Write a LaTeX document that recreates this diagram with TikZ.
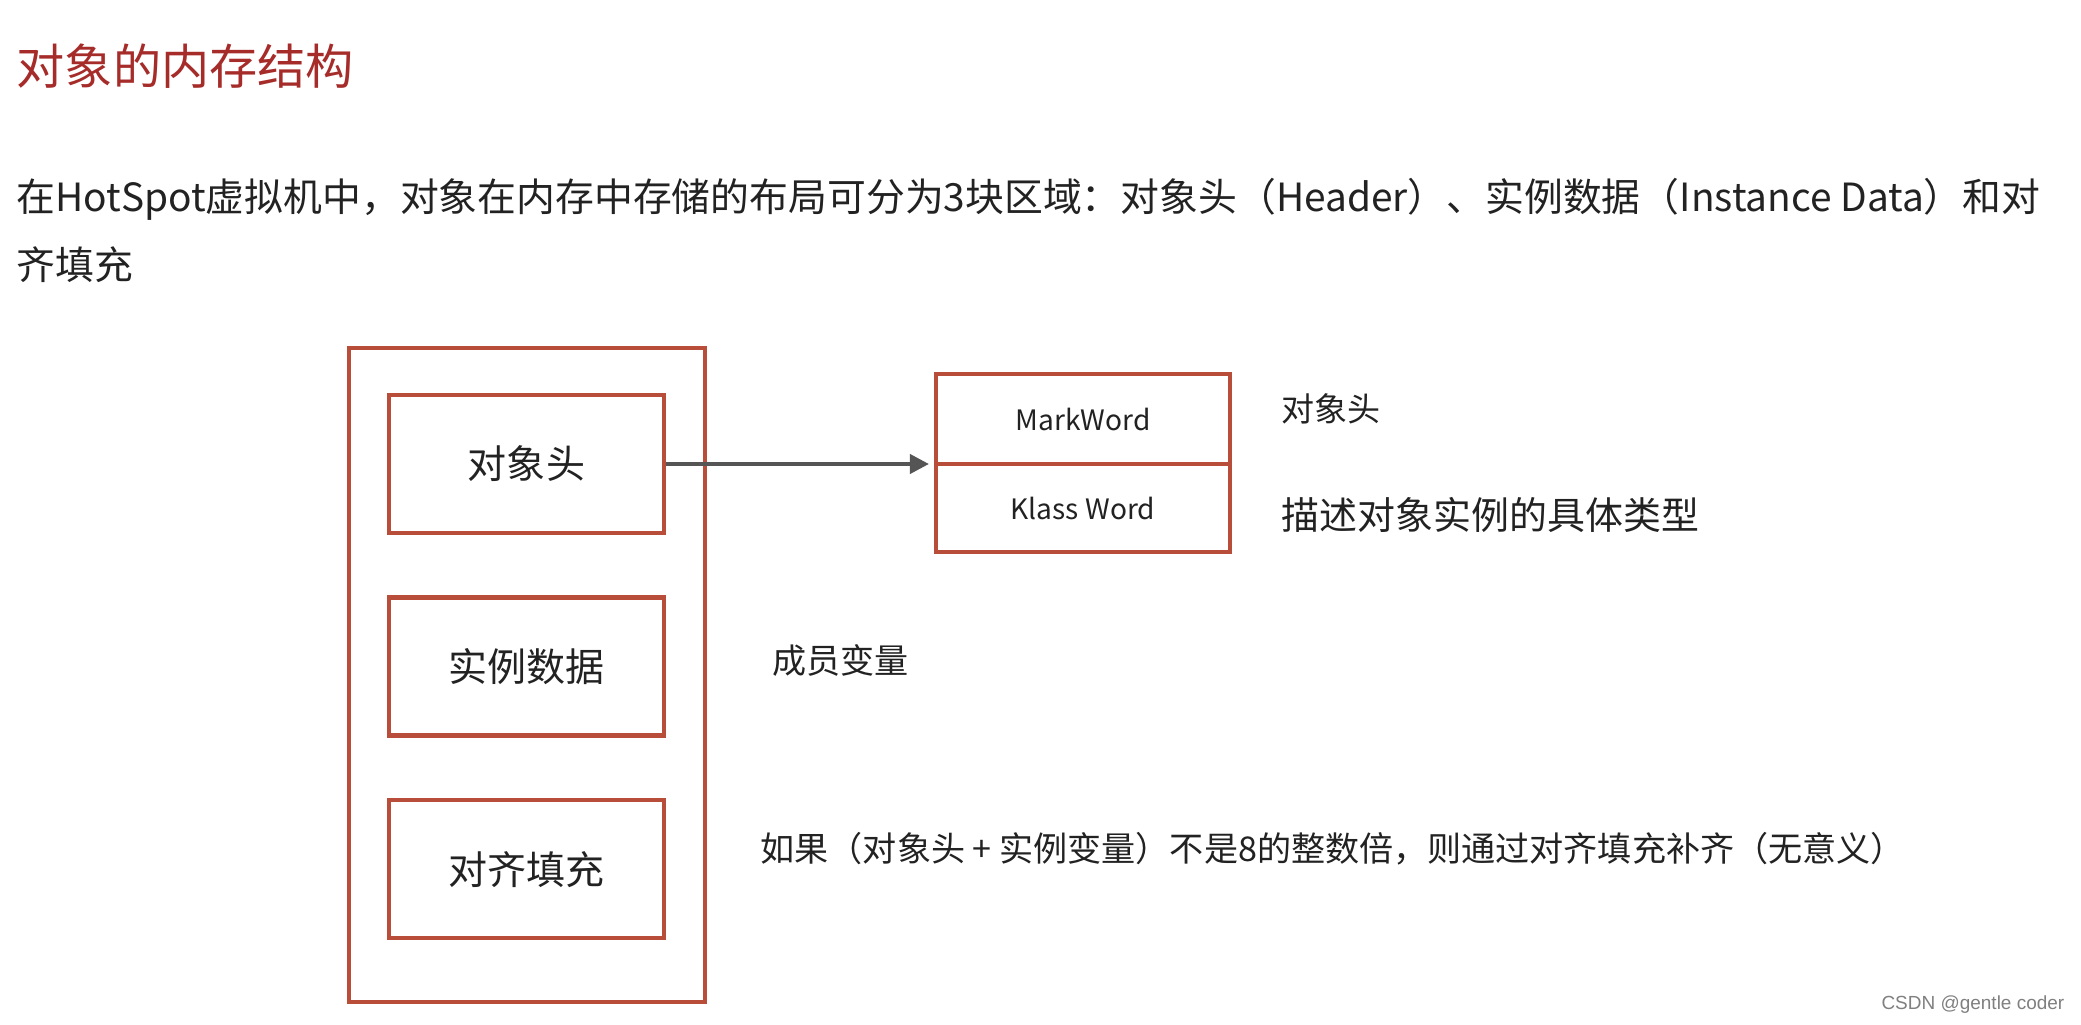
\documentclass[tikz,border=0pt]{standalone}
\usepackage{fontspec}
\setmainfont{Noto Sans CJK SC}
\newfontfamily\wmfont{Liberation Sans}
\usetikzlibrary{positioning}
\usetikzlibrary{arrows.meta}
\definecolor{boxred}{RGB}{184,78,58}
\definecolor{titlered}{RGB}{166,44,42}
\definecolor{textgray}{RGB}{34,34,34}
\definecolor{arrowgray}{RGB}{85,85,85}

\begin{document}
\begin{tikzpicture}[
  memblock/.style={draw=boxred,line width=1.3pt,minimum width=2.75cm,minimum height=1.38cm,
    font=\fontsize{11.1}{13}\selectfont,text=textgray},
  wordblock/.style={draw=boxred,line width=1.3pt,minimum width=2.94cm,outer sep=0pt,
    font=\fontsize{8}{10}\selectfont,text=textgray},
  note/.style={anchor=west,inner sep=0pt,text=textgray}
]
\useasboundingbox[fill=white] (0,0) rectangle (20.81,10.24);

% heading and intro
\node[note,text=titlered,font=\fontsize{13.7}{16}\selectfont] (title) at (0.16,9.58) {对象的内存结构};
\node[note,font=\fontsize{11.05}{14}\selectfont] (para1) at (0.16,8.25)
  {在HotSpot虚拟机中，对象在内存中存储的布局可分为3块区域：对象头（Header）、实例数据（Instance Data）和对};
\node[note,font=\fontsize{11.05}{14}\selectfont] (para2) at (0.16,7.59) {齐填充};

% object layout
\node[draw=boxred,line width=1.3pt,minimum width=3.56cm,minimum height=6.54cm] (obj) at (5.27,3.49) {};
\node[memblock] (head) at (5.265,5.60) {对象头};
\node[memblock,below=0.6cm of head] (inst) {实例数据};
\node[memblock,below=0.6cm of inst] (pad) {对齐填充};

% header words
\node[wordblock,minimum height=0.90cm] (mark) at (10.83,6.05) {MarkWord};
\node[wordblock,minimum height=0.88cm,below=0pt of mark] (klass) {Klass Word};
\draw[arrowgray,line width=1.1pt,-{Triangle[length=0.19cm,width=0.19cm]},shorten >=2pt] (head.east) -- (mark.south west);

% notes
\node[note,font=\fontsize{9.4}{11}\selectfont] (headnote) at (12.81,6.15) {对象头};
\node[note,font=\fontsize{10.8}{13}\selectfont] (typenote) at (12.81,5.09) {描述对象实例的具体类型};
\node[note,font=\fontsize{9.7}{12}\selectfont] (fieldnote) at (7.72,3.63) {成员变量};
\node[note,font=\fontsize{9.7}{12}\selectfont] (padnote) at (7.60,1.75)
  {如果（对象头 + 实例变量）不是8的整数倍，则通过对齐填充补齐（无意义）};

\node[anchor=east,inner sep=0pt,text=gray,font=\wmfont\fontsize{5.4}{6}\selectfont] (csdn) at (20.65,0.19) {CSDN @gentle coder};

\end{tikzpicture}
\end{document}
